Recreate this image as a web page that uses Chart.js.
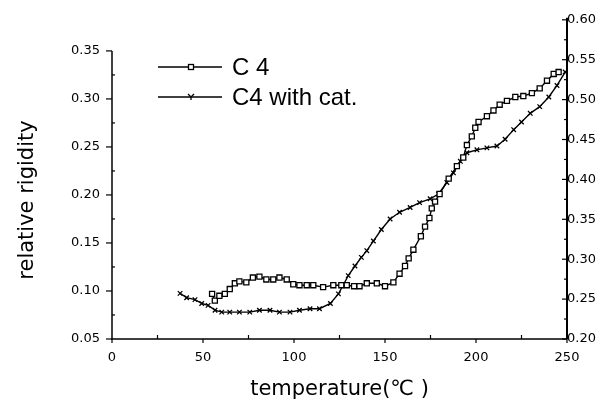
<!DOCTYPE html>
<html>
<head>
<meta charset="utf-8">
<script src="https://cdn.jsdelivr.net/npm/chart.js@4/dist/chart.umd.min.js"></script>
<style>
  body { margin: 0; background: #fff; }
  #wrap { width: 611px; height: 400px; position: relative; }
</style>
</head>
<body>
<div id="wrap"><canvas id="myChart"></canvas></div>
<script>
// values
const c4Temp = [55, 56.5, 59, 62, 64.7, 67.5, 70, 73.8, 77.4, 81, 84.8, 88.6, 92, 96, 99.6, 103, 107, 110.6, 116, 121.6,
    126, 129, 133, 136, 140, 145.5, 150, 154.6, 158, 161, 163, 165.6, 169.7, 172, 174.4, 175.7, 177.5, 180, 185, 189.5,
    193, 195, 197.7, 199.6, 201.4, 206, 209.6, 213, 217, 221.6, 226, 230.7, 235, 239, 242.7, 245.4];
const c4Rigidity = [0.097, 0.090, 0.095, 0.097, 0.102, 0.108, 0.110, 0.109, 0.114, 0.115, 0.112, 0.112, 0.114, 0.112, 0.107, 0.106, 0.106, 0.106, 0.104, 0.106,
    0.106, 0.106, 0.105, 0.105, 0.108, 0.108, 0.105, 0.109, 0.118, 0.126, 0.134, 0.143, 0.157, 0.167, 0.176, 0.186, 0.193, 0.201, 0.217, 0.230,
    0.239, 0.252, 0.261, 0.270, 0.276, 0.282, 0.288, 0.294, 0.298, 0.302, 0.303, 0.306, 0.311, 0.319, 0.326, 0.328];
const catTemp = [37.4, 41, 45.6, 49.3, 52.8, 56.6, 60.3, 64.7, 70, 75.7, 81, 86.8, 92, 97.8, 103, 108.8, 114, 120, 124.4, 127,
    129.8, 133.5, 137, 140, 143.6, 148, 152.8, 158, 163.8, 169, 174.8, 179.4, 184, 187.6, 191.4, 195, 200.5, 206, 211.5, 216,
    220.7, 225, 229.8, 235, 240, 244.5, 249];
const catRigidity = [0.0975, 0.093, 0.091, 0.087, 0.085, 0.080, 0.078, 0.078, 0.078, 0.078, 0.080, 0.080, 0.078, 0.078, 0.080, 0.0815, 0.0815, 0.087, 0.097, 0.106,
    0.116, 0.126, 0.135, 0.142, 0.152, 0.164, 0.175, 0.182, 0.187, 0.192, 0.196, 0.201, 0.213, 0.223, 0.235, 0.244, 0.247, 0.249, 0.251, 0.258,
    0.268, 0.276, 0.285, 0.292, 0.302, 0.314, 0.328];

const seriesLabels = ['C 4', 'C4 with cat.'];
const xTicks = [0, 50, 100, 150, 200, 250];
const leftTicks = [0.05, 0.10, 0.15, 0.20, 0.25, 0.30, 0.35];
const rightTicks = [0.20, 0.25, 0.30, 0.35, 0.40, 0.45, 0.50, 0.55, 0.60];

const tickFont = { family: 'DejaVu Sans', size: 13 };

function toPoints(xs, ys) {
    return xs.map((x, i) => ({ x: x, y: ys[i] }));
}

function line(ctx, x1, y1, x2, y2) {
    ctx.beginPath();
    ctx.moveTo(x1, y1);
    ctx.lineTo(x2, y2);
    ctx.stroke();
}

// axis lines, tick marks, legend and y title
const decorPlugin = {
    id: 'decor',
    afterDraw(chart) {
        const ctx = chart.ctx;
        const xs = chart.scales.x, yl = chart.scales.y, yr = chart.scales.y2;
        const x0 = xs.getPixelForValue(0), x1 = xs.getPixelForValue(250);
        const yb = yl.getPixelForValue(0.05);
        ctx.save();
        ctx.strokeStyle = '#000';
        ctx.fillStyle = '#000';

        ctx.lineWidth = 1.5;
        line(ctx, x0 - 1, yb, x1, yb);
        line(ctx, x0, yb, x0, yl.getPixelForValue(0.35));
        ctx.lineWidth = 2;
        line(ctx, x1, yr.getPixelForValue(0.2), x1, yr.getPixelForValue(0.6) - 2);

        ctx.lineWidth = 1.2;
        xTicks.forEach(t => {
            const px = xs.getPixelForValue(t);
            line(ctx, px, yb, px, yb + 4);
            if (t < 250) {
                const mx = xs.getPixelForValue(t + 25);
                line(ctx, mx, yb, mx, yb - 4);
            }
        });
        leftTicks.forEach(t => {
            const py = yl.getPixelForValue(t);
            line(ctx, x0 - 6, py, x0, py);
            if (t < 0.35) {
                const my = yl.getPixelForValue(t + 0.025);
                line(ctx, x0, my, x0 + 3, my);
            }
        });
        rightTicks.forEach(t => {
            const py = yr.getPixelForValue(t);
            line(ctx, x1 - 5, py, x1, py);
            if (t < 0.6) {
                const my = yr.getPixelForValue(t + 0.025);
                line(ctx, x1 - 3, my, x1, my);
            }
        });

        // legend
        ctx.lineWidth = 1.3;
        ctx.font = '24px "Liberation Sans"';
        ctx.textBaseline = 'middle';
        const rows = [67, 97];
        rows.forEach((ry, i) => {
            line(ctx, 158, ry, 222, ry);
            if (i === 0) {
                ctx.fillStyle = '#fff';
                ctx.fillRect(188.5, ry - 2.5, 5, 5);
                ctx.strokeRect(188.5, ry - 2.5, 5, 5);
            } else {
                line(ctx, 188, ry - 3, 191, ry);
                line(ctx, 194, ry - 3, 191, ry);
                line(ctx, 191, ry, 191, ry + 3);
            }
            ctx.fillStyle = '#000';
            ctx.fillText(seriesLabels[i], 232, ry + 1);
        });

        // y title
        ctx.translate(28, 200);
        ctx.rotate(-Math.PI / 2);
        ctx.font = '21px "DejaVu Sans"';
        ctx.textAlign = 'center';
        ctx.fillText('relative rigidity', 0, 0);
        ctx.restore();
    }
};

Chart.defaults.color = '#000';
Chart.defaults.font.family = 'DejaVu Sans';

const ctx = document.getElementById('myChart').getContext('2d');
const myChart = new Chart(ctx, {
    type: 'scatter',
    data: {
        datasets: [{
            label: seriesLabels[0],
            data: toPoints(c4Temp, c4Rigidity),
            showLine: true,
            borderColor: '#000',
            borderWidth: 1.4,
            pointStyle: 'rect',
            pointRadius: 3.6,
            pointBorderWidth: 1.3,
            pointBackgroundColor: '#fff',
            pointBorderColor: '#000',
            yAxisID: 'y'
        }, {
            label: seriesLabels[1],
            data: toPoints(catTemp, catRigidity),
            showLine: true,
            borderColor: '#000',
            borderWidth: 1.4,
            pointStyle: 'crossRot',
            pointRadius: 3.2,
            pointBorderWidth: 1.3,
            pointBorderColor: '#000',
            yAxisID: 'y'
        }]
    },
    options: {
        responsive: true,
        maintainAspectRatio: false,
        animation: false,
        layout: { padding: { top: 15, left: 0, right: 0, bottom: 0 }, autoPadding: false },
        plugins: {
            legend: { display: false },
            tooltip: { enabled: false }
        },
        scales: {
            x: {
                type: 'linear',
                min: 0,
                max: 250,
                afterFit: s => { s.height = 61; },
                afterBuildTicks: s => { s.ticks = xTicks.map(v => ({ value: v })); },
                grid: { display: false, drawTicks: false },
                border: { display: false },
                ticks: { font: tickFont, padding: 11, maxRotation: 0 },
                title: {
                    display: true,
                    text: 'temperature(℃ )',
                    font: { family: 'DejaVu Sans', size: 21, lineHeight: 1 },
                    padding: { top: 0, bottom: 0 }
                }
            },
            y: {
                type: 'linear',
                position: 'left',
                min: 0.05,
                max: 0.3824,
                afterFit: s => { s.width = 112; },
                afterBuildTicks: s => { s.ticks = leftTicks.map(v => ({ value: v })); },
                grid: { display: false, drawTicks: false },
                border: { display: false },
                ticks: { font: tickFont, padding: 12, callback: v => v.toFixed(2) }
            },
            y2: {
                type: 'linear',
                position: 'right',
                min: 0.2,
                max: 0.6,
                afterFit: s => { s.width = 44; },
                afterBuildTicks: s => { s.ticks = rightTicks.map(v => ({ value: v })); },
                grid: { display: false, drawTicks: false },
                border: { display: false },
                ticks: { font: tickFont, padding: 0, callback: v => v.toFixed(2) }
            }
        }
    },
    plugins: [decorPlugin]
});
</script>
</body>
</html>
